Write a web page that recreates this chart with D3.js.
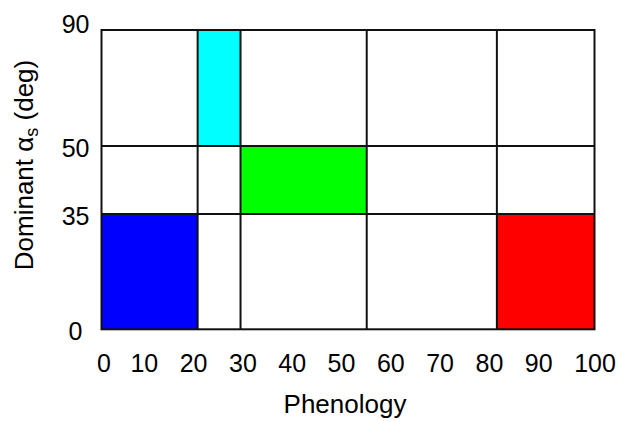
<!DOCTYPE html>
<html>
<head>
<meta charset="utf-8">
<script src="https://cdn.jsdelivr.net/npm/d3@7"></script>
<style>
  html, body { margin: 0; padding: 0; background: #fff; }
  svg { display: block; font-family: Arial, "Liberation Sans", sans-serif; }
</style>
</head>
<body>
<svg id="chart" width="620" height="421"></svg>
<script>
// Phenology (x) versus dominant scattering angle (y) zones
const xTicks = [0, 10, 20, 30, 40, 50, 60, 70, 80, 90, 100];
const yTicks = [0, 35, 50, 90];

// Boundaries of the partition grid
const phenologyBreaks = [19.5, 28.2, 53.8, 80.2];
const angleBreaks = [35, 50];

// Highlighted zones
const zoneX0 = [0, 19.5, 28.2, 80.2];
const zoneX1 = [19.5, 28.2, 53.8, 100];
const zoneY0 = [0, 50, 35, 0];
const zoneY1 = [35, 90, 50, 35];
const zoneColors = ["#0000ff", "#00ffff", "#00ff00", "#ff0000"];

const svg = d3.select("#chart");
const plotLeft = 101.5, plotRight = 594.5, plotTop = 30, plotBottom = 329.3;

const x = d3.scaleLinear().domain([0, 100]).range([plotLeft, plotRight]);
// Piecewise angle axis: each band between the breaks has its own height
const y = d3.scaleLinear().domain([0, 35, 50, 90]).range([plotBottom, 214, 146, plotTop]);

const zones = zoneX0.map((d, i) => ({ x0: d, x1: zoneX1[i], y0: zoneY0[i], y1: zoneY1[i], c: zoneColors[i] }));

svg.append("g").selectAll("rect").data(zones).join("rect")
  .attr("x", d => x(d.x0))
  .attr("width", d => x(d.x1) - x(d.x0))
  .attr("y", d => y(d.y1))
  .attr("height", d => y(d.y0) - y(d.y1))
  .attr("fill", d => d.c);

const grid = svg.append("g").attr("stroke", "#111").attr("stroke-width", 2);
grid.selectAll("line.v").data(phenologyBreaks).join("line").attr("class", "v")
  .attr("x1", d => x(d)).attr("x2", d => x(d))
  .attr("y1", y(90)).attr("y2", y(0));
grid.selectAll("line.h").data(angleBreaks).join("line").attr("class", "h")
  .attr("x1", x(0)).attr("x2", x(100))
  .attr("y1", d => y(d)).attr("y2", d => y(d));

svg.append("rect")
  .attr("x", x(0)).attr("y", y(90))
  .attr("width", x(100) - x(0)).attr("height", y(0) - y(90))
  .attr("fill", "none").attr("stroke", "#111").attr("stroke-width", 2);

// Axes
const xAxis = svg.append("g")
  .attr("transform", `translate(0,${plotBottom})`)
  .call(d3.axisBottom(x).tickValues(xTicks).tickSize(0).tickPadding(25).tickFormat(d3.format("d")));
xAxis.select(".domain").remove();
xAxis.selectAll("text")
  .attr("font-size", 25).attr("fill", "#000")
  .attr("font-family", "Arial, 'Liberation Sans', sans-serif")
  .attr("dx", d => (d === 0 ? 2 : d === 100 ? 0 : -7));

const yAxis = svg.append("g")
  .attr("transform", `translate(${plotLeft},0)`)
  .call(d3.axisLeft(y).tickValues(yTicks).tickSize(0).tickPadding(12).tickFormat(d3.format("d")));
yAxis.select(".domain").remove();
yAxis.selectAll("text")
  .attr("font-size", 25).attr("fill", "#000")
  .attr("font-family", "Arial, 'Liberation Sans', sans-serif")
  .attr("dx", d => (d === 0 ? -7 : 0))
  .attr("dy", d => (d === 90 ? "0.08em" : "0.4em"));

// Axis titles
svg.append("text")
  .attr("x", 345).attr("y", 413)
  .attr("text-anchor", "middle")
  .attr("font-size", 26)
  .text("Phenology");

const yTitle = svg.append("text")
  .attr("transform", "translate(32.5,165) rotate(-90)")
  .attr("text-anchor", "middle")
  .attr("font-size", 26);
yTitle.append("tspan").text("Dominant ");
yTitle.append("tspan").text("α");
yTitle.append("tspan").attr("font-size", 18).attr("dy", 5).text("s");
yTitle.append("tspan").attr("dy", -5).text(" (deg)");
</script>
</body>
</html>
